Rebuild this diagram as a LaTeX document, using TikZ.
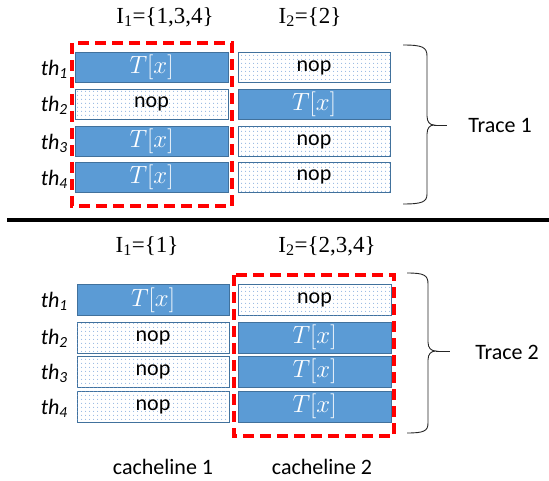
\documentclass[tikz,border=0pt]{standalone}
\usepackage{fontspec}
\setmainfont{Carlito}
\newfontfamily\tms{Liberation Serif}
\usetikzlibrary{patterns.meta}
\definecolor{cellblue}{HTML}{5B9BD5}
\definecolor{celledge}{HTML}{41719C}
\definecolor{dotblue}{HTML}{6A9AD6}
\tikzdeclarepattern{name=finedots, type=uncolored,
  bounding box={(0pt,0pt) and (4pt,4pt)}, tile size={(4pt,4pt)},
  code={\fill (2pt,2pt) circle (0.6pt);}}
\tikzset{
  cell/.style={minimum width=152pt, minimum height=30pt, inner sep=0pt,
    line width=0.9pt, draw=celledge, anchor=center},
  busy/.style={cell, fill=cellblue, text=white,
    font=\fontsize{23}{27}\selectfont},
  idle/.style={cell, fill=white, font=\fontsize{22}{26}\selectfont,
    postaction={pattern=finedots, pattern color=dotblue}},
  thlab/.style={anchor=east, font=\fontsize{22}{26}\selectfont\itshape, inner sep=0pt},
  setlab/.style={font=\fontsize{23}{27}\selectfont\tms, inner sep=0pt},
  plain/.style={font=\fontsize{22}{26}\selectfont, inner sep=0pt},
  group/.style={draw=red, line width=3.2pt, dash pattern=on 11pt off 6pt},
  bracket/.style={draw=black!85, line width=0.9pt}
}
\newcommand{\busytext}{$T[x]$}
\begin{document}
\begin{tikzpicture}[x=1pt, y=-1pt]
\useasboundingbox (0,0) rectangle (549,481);

% ---- first trace ----
\node[setlab] (s11) at (165,17) {I\textsubscript{1}=\{1,3,4\}};
\node[setlab] (s12) at (310,17) {I\textsubscript{2}=\{2\}};

\node[busy, minimum width=153pt] (a1) at (151.5,67.5) {\busytext};
\node[idle, minimum width=153pt] (a2) at (151.5,104) {nop};
\node[busy, minimum width=153pt] (a3) at (151.5,141.5) {\busytext};
\node[busy, minimum width=153pt] (a4) at (151.5,177) {\busytext};

\node[idle] (b1) at (314,67.5) {nop};
\node[busy] (b2) at (314,104) {\busytext};
\node[idle] (b3) at (314,141.5) {nop};
\node[idle] (b4) at (314,177) {nop};

\node[thlab] (t11) at (68,69) {th\textsubscript{\itshape 1}};
\node[thlab] (t12) at (68,105) {th\textsubscript{\itshape 2}};
\node[thlab] (t13) at (68,143) {th\textsubscript{\itshape 3}};
\node[thlab] (t14) at (68,179) {th\textsubscript{\itshape 4}};

\draw[group] (72,43) rectangle (232,206);

\coordinate (u0) at (403,45);
\coordinate (u1) at (403,204);
\coordinate (utip) at (447,125);
\draw[bracket] (u0) .. controls (422,45) and (427,47) .. (427,56)
  -- (427,116) .. controls (427,122) and (430,125) .. (434,125)
  .. controls (430,125) and (427,128) .. (427,134)
  -- (427,194) .. controls (427,202) and (422,204) .. (u1);
\draw[bracket] (434,125) -- (utip);
\node[plain] (tr1) at (500,126) {Trace 1};

% ---- separator ----
\coordinate (sepL) at (7,220);
\coordinate (sepR) at (549,220);
\draw[line width=4pt] (sepL) -- (sepR);

% ---- second trace ----
\node[setlab] (s21) at (147,246) {I\textsubscript{1}=\{1\}};
\node[setlab] (s22) at (327,246) {I\textsubscript{2}=\{2,3,4\}};

\node[busy, minimum height=31pt] (c1) at (153,300) {\busytext};
\node[idle, minimum height=31pt] (c2) at (153,337.5) {nop};
\node[idle, minimum height=31pt] (c3) at (153,371.5) {nop};
\node[idle, minimum height=31pt] (c4) at (153,406.5) {nop};

\node[idle, minimum width=153pt, minimum height=31pt] (d1) at (314.5,300) {nop};
\node[busy, minimum width=153pt, minimum height=31pt] (d2) at (314.5,337.5) {\busytext};
\node[busy, minimum width=153pt, minimum height=31pt] (d3) at (314.5,371.5) {\busytext};
\node[busy, minimum width=153pt, minimum height=31pt] (d4) at (314.5,406.5) {\busytext};

\node[thlab] (t21) at (68,301) {th\textsubscript{\itshape 1}};
\node[thlab] (t22) at (68,338) {th\textsubscript{\itshape 2}};
\node[thlab] (t23) at (68,373) {th\textsubscript{\itshape 3}};
\node[thlab] (t24) at (68,408) {th\textsubscript{\itshape 4}};

\draw[group] (234,275) rectangle (394,436);

\coordinate (v0) at (407,273);
\coordinate (v1) at (407,433);
\coordinate (vtip) at (450,351);
\draw[bracket] (v0) .. controls (424,273) and (428,275) .. (428,284)
  -- (428,342) .. controls (428,348) and (431,351) .. (436,351)
  .. controls (431,351) and (428,354) .. (428,360)
  -- (428,423) .. controls (428,431) and (424,433) .. (v1);
\draw[bracket] (436,351) -- (vtip);
\node[plain] (tr2) at (507,352) {Trace 2};

\node[plain] (cl1) at (163,467) {cacheline 1};
\node[plain] (cl2) at (322,467) {cacheline 2};
\end{tikzpicture}
\end{document}
